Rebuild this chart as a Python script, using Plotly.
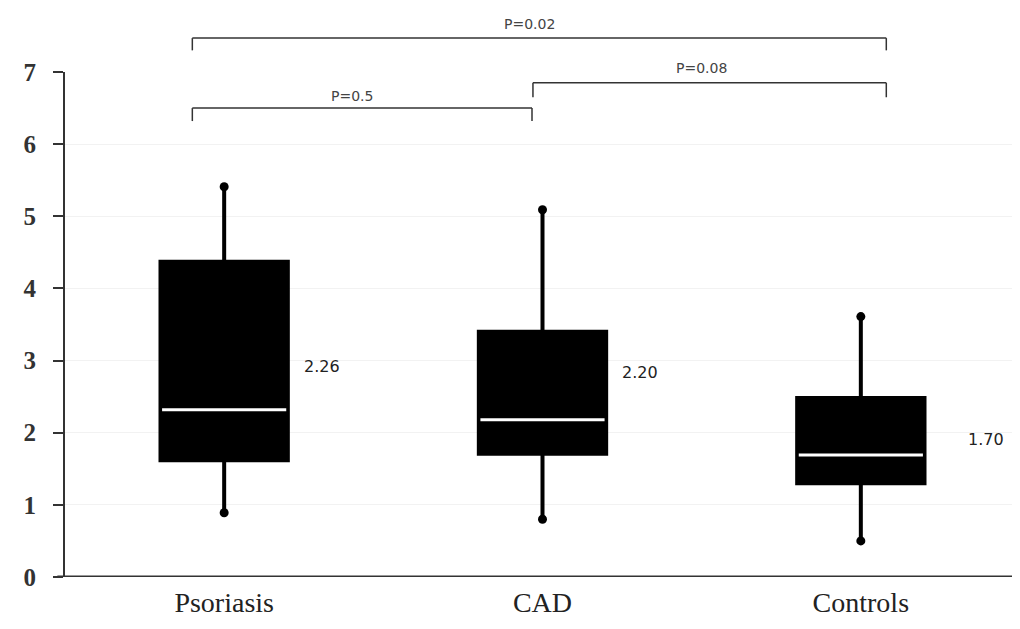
import plotly.graph_objects as go

categories = ["Psoriasis", "CAD", "Controls"]
q1 = [1.62, 1.71, 1.30]
median = [2.32, 2.18, 1.69]
q3 = [4.37, 3.40, 2.48]
lower = [0.89, 0.80, 0.50]
upper = [5.41, 5.09, 3.61]
median_labels = ["2.26", "2.20", "1.70"]
label_x = [0.245, 1.244, 2.33]
label_y = [2.92, 2.84, 1.90]

# significance brackets
br_left = [-0.10, -0.10, 0.97]
br_right = [2.08, 0.967, 2.08]
br_y = [7.47, 6.50, 6.85]
br_tick = [7.30, 6.32, 6.65]
p_text = ["P=0.02", "P=0.5", "P=0.08"]
p_x = [0.96, 0.40, 1.50]
p_y = [7.80, 6.81, 7.19]

YMAX = 7
BOX_W = 0.4

fig = go.Figure()
fig.add_trace(go.Box(
    x=categories, q1=q1, median=median, q3=q3,
    lowerfence=lower, upperfence=upper,
    fillcolor="black", line=dict(color="black", width=4),
    width=BOX_W, whiskerwidth=0, boxpoints=False, showlegend=False,
))
fig.add_trace(go.Scatter(
    x=categories + categories, y=lower + upper, mode="markers",
    marker=dict(color="black", size=9), showlegend=False, cliponaxis=False,
))

shapes = []
for i, m in enumerate(median):
    shapes.append(dict(type="line", xref="x", yref="y", x0=i - BOX_W / 2 + 0.005,
                       x1=i + BOX_W / 2 - 0.005, y0=m, y1=m,
                       line=dict(color="white", width=3)))
for l, r, y, t in zip(br_left, br_right, br_y, br_tick):
    for seg in [(l, y, r, y), (l, y, l, t), (r, y, r, t)]:
        shapes.append(dict(type="line", xref="x", yref="paper",
                           x0=seg[0], y0=seg[1] / YMAX, x1=seg[2], y1=seg[3] / YMAX,
                           line=dict(color="#333333", width=1.5)))
shapes.append(dict(type="line", xref="paper", yref="y", x0=-0.008, x1=1, y0=0, y1=0,
                   line=dict(color="#333333", width=3)))

annotations = []
for t, x, y in zip(median_labels, label_x, label_y):
    annotations.append(dict(x=x, y=y, xref="x", yref="y", text=t, showarrow=False,
                            xanchor="left",
                            font=dict(family="DejaVu Sans", size=16, color="#222222")))
for t, x, y in zip(p_text, p_x, p_y):
    annotations.append(dict(x=x, y=y / YMAX, xref="x", yref="paper", text=t, showarrow=False,
                            font=dict(family="DejaVu Sans", size=14, color="#444444")))

fig.update_layout(
    width=1012, height=621,
    margin=dict(l=57, r=0, t=64, b=52, autoexpand=False),
    plot_bgcolor="white", paper_bgcolor="white",
    shapes=shapes, annotations=annotations,
    xaxis=dict(type="category", range=[-0.5, 2.5], showgrid=False, showline=False,
               ticks="", tickfont=dict(family="Liberation Serif", size=28, color="#222222"),
               zeroline=False, ticklabelstandoff=6),
    yaxis=dict(range=[0, YMAX], dtick=1, showline=True, linecolor="#333333", linewidth=2,
               ticks="outside", ticklen=10, tickwidth=2, tickcolor="#333333",
               gridcolor="#f2f2f2", gridwidth=1, zeroline=False,
               tickfont=dict(family="Liberation Serif", size=25, color="#333333", weight="bold"),
               ticklabelstandoff=12),
)

fig.write_html("out.html")
